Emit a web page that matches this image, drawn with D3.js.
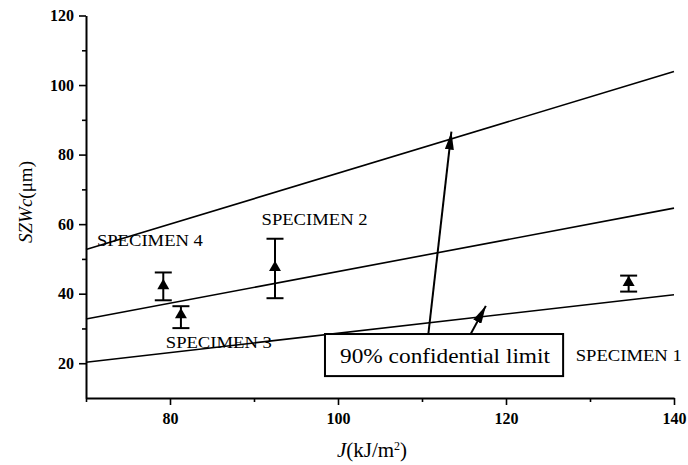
<!DOCTYPE html>
<html><head><meta charset="utf-8">
<script src="https://cdn.jsdelivr.net/npm/d3@7"></script>
<style>
html,body{margin:0;padding:0;background:#fff;}
svg{display:block;}
</style></head>
<body>
<svg id="chart" width="688" height="465"></svg>
<script>
// ---- data ----
const jRange = [70, 140];
const upperLimit = [52.7, 103.9];
const meanLine = [32.7, 64.6];
const lowerLimit = [20.3, 39.7];

const specimenNames = ["SPECIMEN 1", "SPECIMEN 2", "SPECIMEN 3", "SPECIMEN 4"];
const specimenJ = [134.6, 92.5, 81.3, 79.2];
const specimenMean = [43.2, 47.5, 33.9, 42.3];
const specimenLow = [40.6, 38.7, 30.1, 38.1];
const specimenHigh = [45.2, 55.8, 36.4, 46.1];
const labelJ = [128.3, 90.9, 79.5, 71.3];
const labelY = [20.7, 59.8, 24.3, 53.7];

const xMajorTicks = [80, 100, 120, 140];
const xMinorTicks = [70, 90, 110, 130];
const yMajorTicks = [20, 40, 60, 80, 100, 120];
const yMinorTicks = [30, 50, 70, 90, 110];

const annotationText = "90% confidential limit";

const SERIF = '"Liberation Serif","Times New Roman",Times,serif';

// ---- scales ----
const svg = d3.select("#chart");
const x = d3.scaleLinear().domain([70, 140]).range([86, 674]);
const y = d3.scaleLinear().domain([10, 120]).range([398, 15.5]);

// ---- axes ----
const xAxis = svg.append("g").attr("transform", "translate(0,398)")
  .call(d3.axisBottom(x).tickValues(xMajorTicks).tickSize(7).tickSizeOuter(0).tickPadding(8));
const xMinor = svg.append("g").attr("transform", "translate(0,398)")
  .call(d3.axisBottom(x).tickValues(xMinorTicks).tickSize(4).tickSizeOuter(0).tickFormat(""));
const yAxis = svg.append("g").attr("transform", "translate(86,0)")
  .call(d3.axisLeft(y).tickValues(yMajorTicks).tickSize(7).tickSizeOuter(0).tickPadding(5));
const yMinor = svg.append("g").attr("transform", "translate(86,0)")
  .call(d3.axisLeft(y).tickValues(yMinorTicks).tickSize(4).tickSizeOuter(0).tickFormat(""));

[xAxis, yAxis, xMinor, yMinor].forEach(a => a.attr("font-family", SERIF).attr("font-size", 16));
svg.selectAll(".domain").attr("stroke", "#000").attr("stroke-width", 2);
svg.selectAll(".tick line").attr("stroke", "#000").attr("stroke-width", 1.6);
svg.selectAll(".tick text")
  .attr("font-family", SERIF).attr("font-size", 16).attr("font-weight", "bold").attr("fill", "#000");
xMinor.select(".domain").remove();
yMinor.select(".domain").remove();

// ---- regression lines ----
const lineGen = d3.line().x(d => x(d[0])).y(d => y(d[1]));
[upperLimit, meanLine, lowerLimit].forEach(vals => {
  svg.append("path")
    .datum(jRange.map((j, i) => [j, vals[i]]))
    .attr("d", lineGen)
    .attr("fill", "none").attr("stroke", "#000").attr("stroke-width", 1.6);
});

// ---- specimens ----
const spec = specimenNames.map((n, i) => ({
  name: n, j: specimenJ[i], m: specimenMean[i], lo: specimenLow[i], hi: specimenHigh[i],
  lx: labelJ[i], ly: labelY[i]
}));
const g = svg.append("g");
spec.forEach(d => {
  const cx = x(d.j);
  g.append("line").attr("x1", cx).attr("x2", cx).attr("y1", y(d.lo)).attr("y2", y(d.hi))
    .attr("stroke", "#000").attr("stroke-width", 2);
  [d.lo, d.hi].forEach(v => {
    g.append("line").attr("x1", cx - 8.5).attr("x2", cx + 8.5).attr("y1", y(v)).attr("y2", y(v))
      .attr("stroke", "#000").attr("stroke-width", 2);
  });
  g.append("path").attr("d", d3.symbol().type(d3.symbolTriangle).size(62)())
    .attr("transform", `translate(${cx},${y(d.m)})`).attr("fill", "#000");
  g.append("text").attr("x", x(d.lx)).attr("y", y(d.ly))
    .attr("font-family", SERIF).attr("font-size", 16.5).attr("fill", "#000")
    .attr("textLength", 106).attr("lengthAdjust", "spacingAndGlyphs")
    .text(d.name);
});

// ---- annotation ----
const defs = svg.append("defs");
defs.append("marker").attr("id", "ah").attr("viewBox", "0 0 18 9")
  .attr("refX", 18).attr("refY", 4.5).attr("markerWidth", 18).attr("markerHeight", 9)
  .attr("markerUnits", "userSpaceOnUse").attr("orient", "auto")
  .append("path").attr("d", "M0,0 L18,4.5 L0,9 Z").attr("fill", "#000");

const arrows = [
  {from: [110.7, 27.2], to: [113.5, 86.6]},
  {from: [115.3, 26.2], to: [117.6, 36.5]}
];
arrows.forEach(a => {
  svg.append("line")
    .attr("x1", x(a.from[0])).attr("y1", y(a.from[1]))
    .attr("x2", x(a.to[0])).attr("y2", y(a.to[1]))
    .attr("stroke", "#000").attr("stroke-width", 2).attr("marker-end", "url(#ah)");
});

const box = {j0: 98.45, j1: 126.8, y0: 28.4, y1: 16.3};
svg.append("rect").attr("x", x(box.j0)).attr("y", y(box.y0))
  .attr("width", x(box.j1) - x(box.j0)).attr("height", y(box.y1) - y(box.y0))
  .attr("fill", "#fff").attr("stroke", "#000").attr("stroke-width", 2);
svg.append("text").attr("x", 340).attr("y", 363)
  .attr("font-family", SERIF).attr("font-size", 22).attr("fill", "#000")
  .attr("textLength", 210).attr("lengthAdjust", "spacingAndGlyphs")
  .text(annotationText);

// ---- axis titles ----
const xt = svg.append("text").attr("x", 372).attr("y", 457).attr("text-anchor", "middle")
  .attr("font-family", SERIF).attr("font-size", 21).attr("fill", "#000");
xt.append("tspan").attr("font-style", "italic").text("J");
xt.append("tspan").text("(kJ/m");
xt.append("tspan").attr("dy", -7).attr("font-size", 12).text("2");
xt.append("tspan").attr("dy", 7).text(")");

const yt = svg.append("text").attr("transform", "translate(32,202) rotate(-90)")
  .attr("text-anchor", "middle")
  .attr("font-family", SERIF).attr("font-size", 19).attr("fill", "#000");
yt.append("tspan").attr("font-style", "italic").text("SZWc");
yt.append("tspan").text("(μm)");
</script>
</body></html>
